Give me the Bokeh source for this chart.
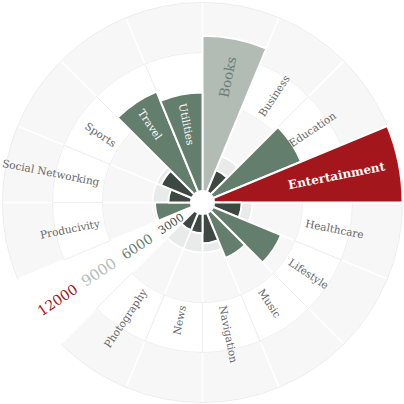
import math
from bokeh.plotting import figure
from bokeh.models import Range1d
from bokeh.core.properties import value
from bokeh.embed import file_html
from bokeh.resources import INLINE

# ---------------- data ----------------
categories = ["Books", "Business", "Education", "Entertainment", "Healthcare",
              "Lifestyle", "Music", "Navigation", "News", "Photography",
              "Producivity", "Social Networking", "Sports", "Travel", "Utilities"]
downloads = [10000, 2100, 6400, 12000, 2350,
             5100, 3600, 2450, 1850, 1800,
             2850, 2050, 2700, 7200, 6600]
scale_ticks = [3000, 6000, 9000, 12000]
scale_labels = ["3000", "6000", "9000", "12000"]
tier_limits = [2800, 9000, 12000]

# ---------------- style ----------------
FONT = "DejaVu Serif"
palette = ["#3d4842", "#647e6e", "#b2bcb5", "#a3161b"]
tick_sizes = ["11px", "13.5px", "15px", "14px"]
tick_shift_px = [2, -4, -6, -3]
band_fill = ["#e8ebe9", "#f7f7f7", "#ffffff", "#f7f7f7"]
SCALE_SLOT = 10
HOLE = 750
W = 404
R_PX = 200
MAXV = scale_ticks[-1]
UNIT = MAXV / R_PX          # data units per pixel
half = UNIT * W / 2

p = figure(width=W, height=W, x_range=Range1d(-half, half), y_range=Range1d(-half, half),
           output_backend="svg", toolbar_location=None, min_border=0)
p.axis.visible = False
p.grid.visible = False
p.outline_line_color = None
p.background_fill_color = "white"
p.border_fill_color = "white"

n_slots = len(categories) + 1
step = 2 * math.pi / n_slots


def slot_of(k):
    return k if k < SCALE_SLOT else k + 1


def tier(v):
    for i, lim in enumerate(tier_limits):
        if v < lim:
            return i
    return len(tier_limits)


starts, ends, mids, slots = [], [], [], []
for k in range(len(categories)):
    s = slot_of(k)
    slots.append(s)
    starts.append(math.pi / 2 - (s + 1) * step)
    ends.append(math.pi / 2 - s * step)
    mids.append(math.pi / 2 - (s + 0.5) * step)

# background bands
inner_edges = [0] + scale_ticks[:-1]
for b in [0, 1, 3, 2]:
    if band_fill[b] == "#ffffff":
        lc, lw = "#eeeeee", 1
    else:
        lc, lw = "white", 1.5
    p.annular_wedge(x=0, y=0, inner_radius=inner_edges[b], outer_radius=scale_ticks[b],
                    start_angle=starts, end_angle=ends,
                    fill_color=band_fill[b], line_color=lc, line_width=lw)
p.arc(x=0, y=0, radius=MAXV, start_angle=starts, end_angle=ends,
      line_color="#ebebeb", line_width=1)

# bars
colors = [palette[tier(v)] for v in downloads]
p.wedge(x=0, y=0, radius=downloads, start_angle=starts, end_angle=ends,
        fill_color=colors, line_color="white", line_width=2)

# center hole
p.circle(x=[0], y=[0], radius=HOLE, fill_color="white", line_color=None)

# category labels
LABEL_R = 105 * UNIT
INSIDE_MIN = 6500
for k, name in enumerate(categories):
    v = downloads[k]
    th = mids[k]
    outward = slots[k] < n_slots // 2
    ang = th if outward else th + math.pi
    t = tier(v)
    if v > INSIDE_MIN:
        align = "right" if outward else "left"
        if t == 3:
            r = v - 14 * UNIT
            col, size, style = "white", "12px", "bold"
        elif t == 2:
            r = v - 18 * UNIT
            col, size, style = "#6f7b74", "13.5px", "normal"
        else:
            r = v - 9 * UNIT
            col, size, style = "white", "10.5px", "normal"
    else:
        r = LABEL_R
        align = "left" if outward else "right"
        col, size, style = "#666666", "10.5px", "normal"
    p.text(x=[r * math.cos(th)], y=[r * math.sin(th)], text=[name], angle=ang,
           text_align=align, text_baseline="middle", text_font=value(FONT),
           text_font_size=size, text_font_style=style, text_color=col)

# scale labels along the empty slot
ths = math.pi / 2 - (SCALE_SLOT + 0.5) * step
for i, tk in enumerate(scale_ticks):
    r = tk + tick_shift_px[i] * UNIT
    p.text(x=[r * math.cos(ths)], y=[r * math.sin(ths)], text=[scale_labels[i]],
           angle=ths + math.pi, text_align="left", text_baseline="middle",
           text_font=value(FONT), text_font_size=tick_sizes[i], text_color=palette[i])

open("out.html", "w").write(file_html(p, INLINE))
